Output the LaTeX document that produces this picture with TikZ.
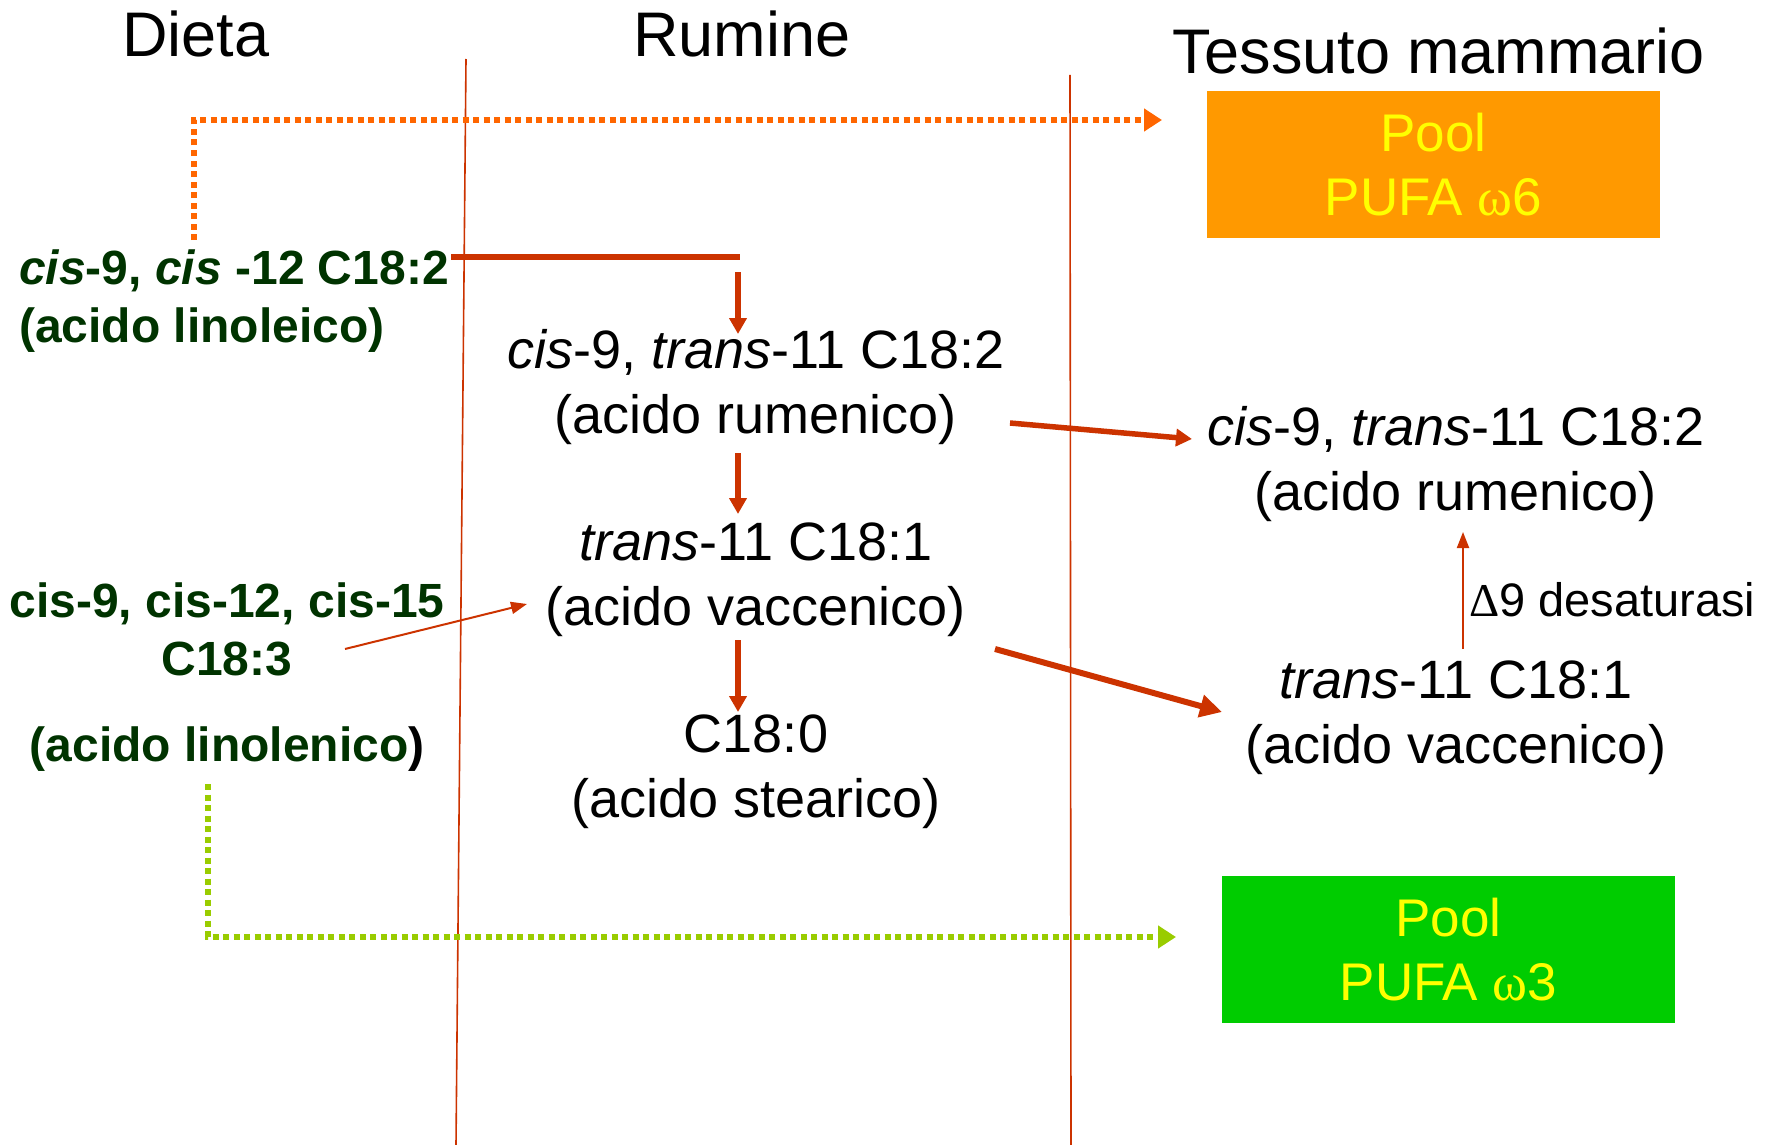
\documentclass[tikz,border=0pt]{standalone}
\usepackage{fontspec}
\setmainfont{Liberation Sans}
\newfontfamily\symfont{Liberation Serif}
\usetikzlibrary{arrows.meta}
\definecolor{redl}{HTML}{CC3300}
\definecolor{orl}{HTML}{FF6600}
\definecolor{grl}{HTML}{99CC00}
\definecolor{obox}{HTML}{FF9900}
\definecolor{gbox}{HTML}{00CC00}
\definecolor{ytext}{HTML}{FFFF00}
\definecolor{dgreen}{HTML}{003300}
\tikzset{
  head/.style={font=\fontsize{63}{75}\selectfont, inner sep=0pt},
  txt/.style={font=\fontsize{54}{65}\selectfont, align=center, inner sep=0pt},
  diet/.style={font=\fontsize{48}{58}\selectfont\bfseries, text=dgreen, inner sep=0pt},
  pool/.style={minimum width=453pt, minimum height=147pt, inner sep=0pt, text=ytext,
    font=\fontsize{53}{64}\selectfont, align=center},
  sepline/.style={draw=redl, line width=1.6pt},
  bigarrow/.style={draw=redl, line width=5.5pt, -{Triangle[length=16pt,width=17pt]}},
  hugearrow/.style={draw=redl, line width=6pt, -{Triangle[length=22pt,width=22pt]}},
  thinarrow/.style={draw=redl, line width=2pt, -{Triangle[length=16pt,width=12pt]}},
  dotor/.style={draw=orl, line width=5.5pt, dash pattern=on 6pt off 4.5pt, -{Triangle[length=18pt,width=22pt]}},
  dotgr/.style={draw=grl, line width=5.5pt, dash pattern=on 6pt off 4.5pt, -{Triangle[length=18pt,width=22pt]}}
}
\begin{document}
\begin{tikzpicture}[x=1pt,y=-1pt]
\useasboundingbox (0,0) rectangle (1777,1145);
% headings
\node[head] (dieta) at (196,34) {Dieta};
\node[head] (rumine) at (742,34) {Rumine};
\node[head] (tessuto) at (1439,51) {Tessuto mammario};
% separators
\coordinate (s1t) at (466,59); \coordinate (s1b) at (456,1145);
\coordinate (s2t) at (1070,75); \coordinate (s2b) at (1071,1145);
\draw[sepline] (s1t) -- (s1b);
\draw[sepline] (s2t) -- (s2b);
% pools
\node[pool, fill=obox] (pool6) at (1433.5,164.5) {Pool\\PUFA {\symfont ω}6};
\node[pool, fill=gbox] (pool3) at (1448.5,949.5) {Pool\\PUFA {\symfont ω}3};
% diet
\node[diet, anchor=west, align=left] (linol) at (19,301) {\textit{cis}-9, \textit{cis} -12 C18:2\\(acido linoleico)};
\node[diet, align=center] (linolen) at (227,677) {cis-9, cis-12, cis-15\\C18:3\\[28pt](acido linolenico{\color{black})}};
% rumen
\node[txt] (rum1) at (756,387) {\textit{cis}-9, \textit{trans}-11 C18:2\\(acido rumenico)};
\node[txt] (vac1) at (756,580) {\textit{trans}-11 C18:1\\(acido vaccenico)};
\node[txt] (ste) at (756,772) {C18:0\\(acido stearico)};
% tissue
\node[txt] (rum2) at (1456,464) {\textit{cis}-9, \textit{trans}-11 C18:2\\(acido rumenico)};
\node[txt] (vac2) at (1456,718) {\textit{trans}-11 C18:1\\(acido vaccenico)};
\node[font=\fontsize{47}{56}\selectfont, anchor=west, inner sep=0pt] (desat) at (1469,600) {{\symfont Δ}9 desaturasi};
% connector end points
\coordinate (o1) at (194,240); \coordinate (o2) at (1162,120);
\coordinate (g1) at (208,784); \coordinate (g2) at (1176,937);
\coordinate (h1) at (451,257); \coordinate (h2) at (740,257);
\coordinate (a1s) at (738,272); \coordinate (a1e) at (738,334);
\coordinate (a2s) at (1010,423); \coordinate (a2e) at (1192,439);
\coordinate (a3s) at (738,453); \coordinate (a3e) at (738,514);
\coordinate (a4s) at (738,640); \coordinate (a4e) at (738,712);
\coordinate (a5s) at (345,649); \coordinate (a5e) at (527,604);
\coordinate (a6s) at (995,649); \coordinate (a6e) at (1222,712);
\coordinate (a7s) at (1463,649); \coordinate (a7e) at (1463,532);
% connectors
\draw[dotor] (o1) |- (o2);
\draw[dotgr] (g1) |- (g2);
\draw[draw=redl, line width=6pt] (h1) -- (h2);
\draw[bigarrow] (a1s) -- (a1e);
\draw[bigarrow] (a2s) -- (a2e);
\draw[bigarrow] (a3s) -- (a3e);
\draw[bigarrow] (a4s) -- (a4e);
\draw[thinarrow] (a5s) -- (a5e);
\draw[hugearrow] (a6s) -- (a6e);
\draw[thinarrow] (a7s) -- (a7e);
\end{tikzpicture}
\end{document}
